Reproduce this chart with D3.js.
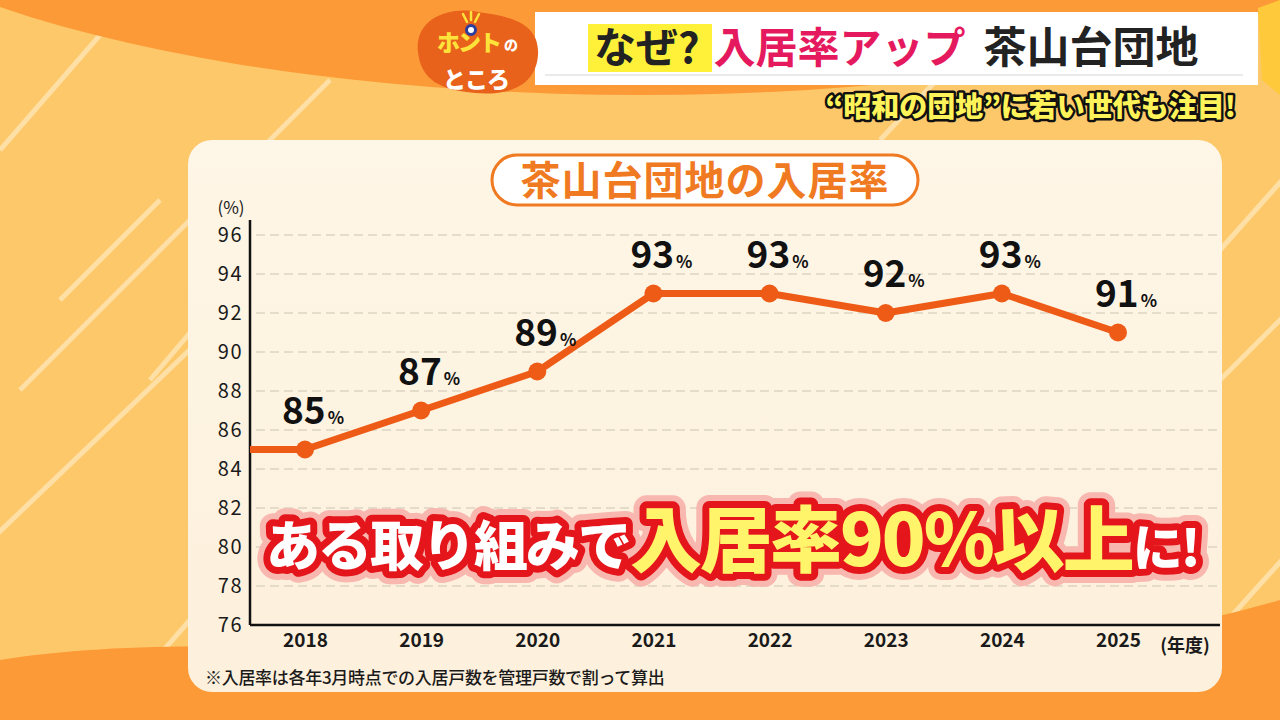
<!DOCTYPE html>
<html>
<head>
<meta charset="utf-8">
<script src="https://cdn.jsdelivr.net/npm/d3@7"></script>
<style>
  html, body { margin: 0; padding: 0; background: #fdc86a; }
  svg { display: block; font-family: "Noto Sans CJK JP", "Noto Sans", sans-serif; }
</style>
</head>
<body>
<div id="chart"></div>
<script>
// data
const years = [2018, 2019, 2020, 2021, 2022, 2023, 2024, 2025]
const rates = [85, 87, 89, 93, 93, 92, 93, 91]
const leadIn = 85          // line enters from the left edge at this level
const yTicks = [76, 78, 80, 82, 84, 86, 88, 90, 92, 94, 96]

const W = 1280, H = 720
const svg = d3.select("#chart").append("svg").attr("width", W).attr("height", H)
const defs = svg.append("defs")

// ---- background
svg.append("rect").attr("width", W).attr("height", H).attr("fill", "#fdc86a")

// diagonal light streaks
const streaks = [[0,150,200,-80],[20,390,330,80],[-30,560,200,340],[120,700,330,460],
  [150,380,260,250],[520,90,700,-100],[880,140,1050,-40],[1180,420,1300,300],[1220,250,1300,160],
  [1210,640,1300,540],[60,300,160,200]]
svg.selectAll("line.streak").data(streaks).enter().append("line")
  .attr("x1", d => d[0]).attr("y1", d => d[1]).attr("x2", d => d[2]).attr("y2", d => d[3])
  .attr("stroke", "#fff3d6").attr("stroke-opacity", 0.55).attr("stroke-width", 5)

// top orange swoosh and bottom orange band
svg.append("ellipse").attr("cx", 640).attr("cy", -170).attr("rx", 860).attr("ry", 265).attr("fill", "#fd9a38")
svg.append("path")
  .attr("d", "M0,660 C120,640 300,645 420,655 C700,675 1000,680 1280,600 L1280,720 L0,720 Z")
  .attr("fill", "#fd9a38")

// right-edge yellow sparkle
svg.append("path").attr("d", "M1258,8 L1280,0 L1280,95 L1262,80 Z").attr("fill", "#ffc93c")

// ---- card
const grad = defs.append("linearGradient").attr("id", "card").attr("x1", 0).attr("y1", 0).attr("x2", 0).attr("y2", 1)
grad.append("stop").attr("offset", "0").attr("stop-color", "#fef6e6")
grad.append("stop").attr("offset", "1").attr("stop-color", "#fdf0dc")
svg.append("rect").attr("x", 188).attr("y", 140).attr("width", 1034).attr("height", 552)
  .attr("rx", 24).attr("fill", "url(#card)")

// chart title pill
svg.append("rect").attr("x", 492).attr("y", 155).attr("width", 426).attr("height", 50).attr("rx", 25)
  .attr("fill", "#fff").attr("stroke", "#f07a22").attr("stroke-width", 3)
svg.append("text").attr("x", 705).attr("y", 195).attr("text-anchor", "middle")
  .attr("font-size", 40).attr("font-weight", 700).attr("fill", "#f07a22").attr("letter-spacing", 1)
  .text("茶山台団地の入居率")

// ---- scales
const x = d3.scaleLinear().domain([2018, 2025]).range([305, 1118])
const y = d3.scaleLinear().domain([76, 96]).range([625, 235])
const plotLeft = 250, plotRight = 1220

// grid
svg.selectAll("line.grid").data(yTicks.filter(t => t > 76)).enter().append("line")
  .attr("x1", plotLeft + 6).attr("x2", plotRight)
  .attr("y1", d => y(d)).attr("y2", d => y(d))
  .attr("stroke", "#ddd3c2").attr("stroke-width", 1.5).attr("stroke-dasharray", "9 5")

// y axis
const yAxis = svg.append("g").attr("transform", `translate(${plotLeft},0)`)
  .call(d3.axisLeft(y).tickValues(yTicks).tickSize(0).tickPadding(7))
yAxis.select(".domain").remove()
yAxis.selectAll("text").attr("font-size", 20).attr("font-weight", 400).attr("fill", "#1a1a1a")
  .attr("font-family", "'Noto Sans CJK JP', sans-serif").attr("letter-spacing", 1.5)
svg.append("line").attr("x1", plotLeft).attr("x2", plotLeft).attr("y1", 220).attr("y2", y(76))
  .attr("stroke", "#111").attr("stroke-width", 2.5)
svg.append("text").attr("x", 231).attr("y", 214).attr("text-anchor", "middle")
  .attr("font-size", 17).attr("fill", "#1a1a1a").text("(%)")

// x axis
const xAxis = svg.append("g").attr("transform", `translate(0,${y(76)})`)
  .call(d3.axisBottom(x).tickValues(years).tickFormat(d3.format("d")).tickSize(0).tickPadding(9))
xAxis.select(".domain").remove()
xAxis.selectAll("text").attr("font-size", 19).attr("font-weight", 700).attr("fill", "#1a1a1a")
  .attr("font-family", "'Noto Sans CJK JP', sans-serif")
svg.append("line").attr("x1", plotLeft).attr("x2", plotRight).attr("y1", y(76)).attr("y2", y(76))
  .attr("stroke", "#111").attr("stroke-width", 2.5)
svg.append("text").attr("x", 1185).attr("y", 652).attr("text-anchor", "middle")
  .attr("font-size", 18).attr("font-weight", 700).attr("fill", "#1a1a1a").text("(年度)")

// ---- line
const pts = years.map((yr, i) => ({ yr, v: rates[i] }))
const lineData = [{ xp: plotLeft, v: leadIn }].concat(pts.map(p => ({ xp: x(p.yr), v: p.v })))
svg.append("path").datum(lineData)
  .attr("d", d3.line().x(d => d.xp).y(d => y(d.v)))
  .attr("fill", "none").attr("stroke", "#ee5b16").attr("stroke-width", 7).attr("stroke-linejoin", "round")
svg.selectAll("circle.pt").data(pts).enter().append("circle")
  .attr("cx", d => x(d.yr)).attr("cy", d => y(d.v)).attr("r", 9).attr("fill", "#ee5b16")

// value labels
const lab = svg.selectAll("text.val").data(pts).enter().append("text")
  .attr("x", d => x(d.yr) + 8).attr("y", d => y(d.v) - 26).attr("text-anchor", "middle")
  .attr("fill", "#111").attr("font-weight", 700)
lab.append("tspan").attr("font-size", 37).text(d => d.v)
lab.append("tspan").attr("font-size", 17).attr("dx", 2).text("%")

// footnote
svg.append("text").attr("x", 205).attr("y", 684).attr("font-size", 17).attr("fill", "#1a1a1a")
  .attr("font-weight", 500).attr("letter-spacing", -0.3).text("※入居率は各年3月時点での入居戸数を管理戸数で割って算出")

// ---- big caption overlay
const cap = svg.append("g")
const capParts = [
  { t: "ある取り組みで", size: 54, fill: "#ffffff" },
  { t: "入居率90%以上", size: 72, fill: "#fff46a" },
  { t: "に!", size: 50, fill: "#ffffff" }
]
function capText(stroke, sw, opacity) {
  const tx = cap.append("text").attr("x", 266).attr("y", 566)
    .attr("font-weight", 900).attr("letter-spacing", -2)
    .attr("stroke", stroke).attr("stroke-width", sw).attr("stroke-linejoin", "round")
    .attr("opacity", opacity)
  tx.selectAll("tspan").data(capParts).enter().append("tspan")
    .attr("font-size", d => d.size)
    .attr("fill", d => stroke === "none" ? d.fill : stroke)
    .text(d => d.t)
  return tx
}
capText("#f8b2ac", 26, 0.9)
capText("#e4151b", 14, 1)
capText("none", 0, 1)

// ---- header
svg.append("rect").attr("x", 535).attr("y", 12).attr("width", 723).attr("height", 73).attr("fill", "#fff")
svg.append("line").attr("x1", 545).attr("x2", 1243).attr("y1", 75).attr("y2", 75)
  .attr("stroke", "#e3e3e3").attr("stroke-width", 1.5)
svg.append("rect").attr("x", 588).attr("y", 24).attr("width", 124).attr("height", 48).attr("fill", "#fff13a")
const head = svg.append("text").attr("x", 594).attr("y", 63).attr("font-size", 42).attr("font-weight", 700)
head.append("tspan").attr("fill", "#222").text("なぜ?")
head.append("tspan").attr("fill", "#e5195e").attr("dx", 14).text("入居率アップ")
head.append("tspan").attr("fill", "#222").attr("dx", 18).attr("font-size", 43).text("茶山台団地")

svg.append("text").attr("x", 1236).attr("y", 117).attr("text-anchor", "end")
  .attr("font-size", 28).attr("font-weight", 900).attr("fill", "#fff35a")
  .attr("stroke", "#111").attr("stroke-width", 5).attr("paint-order", "stroke").attr("stroke-linejoin", "round")
  .text("“昭和の団地”に若い世代も注目!")

// logo
svg.append("path")
  .attr("d", "M418,52 C414,18 450,6 478,12 C508,16 540,22 538,55 C536,85 510,96 475,93 C440,90 421,80 418,52 Z")
  .attr("fill", "#e8621c")
const rays = [[463, 14, 467, 22], [471, 12, 471, 20], [479, 14, 475, 22]]
svg.selectAll("line.ray").data(rays).enter().append("line")
  .attr("x1", d => d[0]).attr("y1", d => d[1]).attr("x2", d => d[2]).attr("y2", d => d[3])
  .attr("stroke", "#ffe33a").attr("stroke-width", 2.5).attr("stroke-linecap", "round")
svg.append("circle").attr("cx", 471).attr("cy", 30).attr("r", 4.5).attr("fill", "#fff").attr("stroke", "#2c3d9c").attr("stroke-width", 3)
svg.append("text").attr("x", 437).attr("y", 51).attr("font-size", 23).attr("font-weight", 900)
  .attr("fill", "#ffe33a").attr("letter-spacing", -2).text("ホント")
svg.append("text").attr("x", 504).attr("y", 50).attr("font-size", 14).attr("font-weight", 900)
  .attr("fill", "#fff").text("の")
svg.append("text").attr("x", 443).attr("y", 88).attr("font-size", 23).attr("font-weight", 900)
  .attr("fill", "#fff").attr("letter-spacing", -1).text("ところ")
</script>
</body>
</html>
